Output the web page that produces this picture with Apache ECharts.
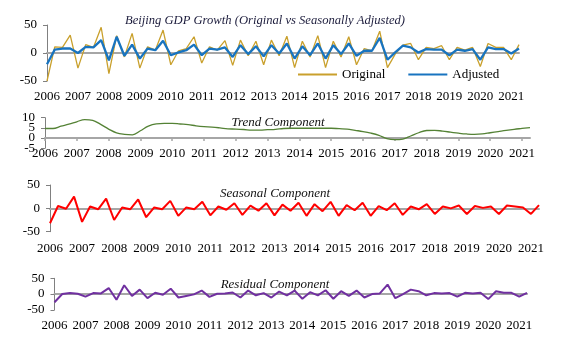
<!DOCTYPE html>
<html><head><meta charset="utf-8">
<script src="https://cdn.jsdelivr.net/npm/echarts@6/dist/echarts.min.js"></script>
<style>html,body{margin:0;padding:0;background:#fff}#c{width:565px;height:342px}</style>
</head><body><div id="c"></div>
<script>
const years = ['2006','2007','2008','2009','2010','2011','2012','2013','2014','2015','2016','2017','2018','2019','2020','2021'];
const quarters = ['Q1','Q2','Q3','Q4'];
const nPoints = 62;
const original = [-50,11,10,32,-27,15,10,46,-37,31,-7,35,-27,11,5,41,-21,4,8,29,-18,11,5,22,-22,23,-5,21,-21,23,-5,30,-26,21,-7,31,-26,21,-7,29,-21,8,4,39,-26,-2,14,17,-12,10,8,13,-12,10,5,10,-24,17,10,10,-12,15];
const adjusted = [-20,6,8,8,0,11,10,23,-13,29,-5,15,-10,8,5,22,-4,1,5,15,-4,8,6,10,-7,14,-2,12,-6,14,-1,17,-10,12,-4,17,-10,14,-2,17,-5,4,4,27,-12,1,13,10,1,7,6,6,-4,6,4,7,-12,10,7,7,-1,8];
const trend = [4.7,4.7,5.8,6.8,8.0,9.1,8.7,6.7,4.4,2.5,1.8,1.6,3.6,5.9,7.0,7.2,7.2,6.9,6.6,6.0,5.6,5.4,5.0,4.5,4.4,4.2,3.9,3.9,4.1,4.3,4.7,4.8,4.8,4.8,4.8,4.8,4.8,4.6,4.4,3.8,3.2,2.4,1.3,-0.3,-0.8,-0.5,1.0,2.6,3.7,3.8,3.4,2.9,2.4,2.0,1.8,2.0,2.6,3.2,3.8,4.3,4.7,5.1];
const seasonal = [-32,5,-1,25,-29,4,-2,21,-25,2,-2,19,-19,2,-2,16,-16,2,-2,14,-15,4,-3,11,-14,6,-5,11,-15,8,-5,12,-16,9,-6,14,-16,7,-4,12,-16,5,-4,11,-14,4,-2,9,-12,4,0,6,-12,5,1,4,-12,6,4,2,-12,7];
const residual = [-26,0,3,1,-8,3,2,19,-18,28,-6,14,-13,4,-2,17,-11,-6,-1,11,-9,1,2,5,-11,11,-4,3,-11,8,-4,11,-15,6,-4,12,-15,9,-6,11,-11,0,2,30,-13,0,14,9,-4,3,2,3,-8,4,2,4,-16,9,4,4,-8,4];
const trendTicksA = [10, 0];
const trendTicksB = [5, -5];

const categories = [];
years.forEach(y => quarters.forEach(q => categories.push(y + q)));
categories.length = nPoints;

const FONT = "'Liberation Serif','Times New Roman',serif";
const everyYear = (i) => i % 4 === 0;
const GRAY = '#A6A6A6';

function zeroAxis(grid, ticks) {
  return {type:'category', gridIndex:grid, data:categories, boundaryGap:false,
    axisLine:{show:true, onZero:true, lineStyle:{color:GRAY, width:2}},
    axisTick:ticks ? {show:true, interval:(i)=>everyYear(i), length:3, lineStyle:{color:GRAY, width:1.5}} : {show:false},
    axisLabel:{show:false}, splitLine:{show:false}};
}
function labelAxis(grid, margin) {
  return {type:'category', gridIndex:grid, data:categories, boundaryGap:false, position:'bottom',
    axisLine:{show:false, onZero:false}, axisTick:{show:false}, splitLine:{show:false},
    axisLabel:{interval:(i)=>everyYear(i), formatter:(v)=>v.slice(0,4), fontFamily:FONT, fontSize:13, color:'#000', margin:margin, hideOverlap:false}};
}
function yAx(grid, min, max, interval, opts) {
  opts = opts || {};
  const ax = {type:'value', gridIndex:grid, min:min, max:max, interval:interval, position:'left',
    axisLine:{show:opts.line !== false, onZero:false, lineStyle:{color:'#808080', width:1}},
    axisTick:{show:opts.line !== false, length:4, lineStyle:{color:'#808080'}},
    splitLine:{show:false},
    axisLabel:{fontFamily:FONT, fontSize:13, color:'#000', margin:10, showMinLabel:true, showMaxLabel:true, hideOverlap:false}};
  if (opts.only) ax.axisLabel.formatter = (v) => opts.only.indexOf(v) >= 0 ? String(v) : '';
  return ax;
}

const option = {
  animation:false,
  backgroundColor:'#fff',
  grid:[
    {left:47, right:46, top:25, height:56},
    {left:45, right:35, top:117.7, height:30.5},
    {left:50, right:26, top:185, height:46.7},
    {left:54.5, right:38, top:278.3, height:31.5}
  ],
  xAxis:[
    zeroAxis(0,false), labelAxis(0, 9),
    zeroAxis(1,true), labelAxis(1, -1.5),
    zeroAxis(2,false), labelAxis(2, 10),
    zeroAxis(3,false), labelAxis(3, 9.5)
  ],
  yAxis:[
    yAx(0,-50,50,50),
    yAx(1,-5,10,5,{only:trendTicksA}),
    yAx(2,-50,50,50),
    yAx(3,-50,50,50),
    yAx(1,-5,10,5,{only:trendTicksB, line:false})
  ],
  legend:{
    data:['Original','Adjusted'], left:292, top:63, itemWidth:39, itemHeight:12, itemGap:22,
    itemStyle:{opacity:0},
    textStyle:{fontFamily:FONT, fontSize:13, color:'#000'}
  },
  series:[
    {name:'Original', type:'line', xAxisIndex:0, yAxisIndex:0, data:original, symbol:'none',
      lineStyle:{color:'#C9A02C', width:1.3}, itemStyle:{color:'#C9A02C'}},
    {name:'Adjusted', type:'line', xAxisIndex:0, yAxisIndex:0, data:adjusted, symbol:'none',
      lineStyle:{color:'#1874C0', width:2.3}, itemStyle:{color:'#1874C0'}},
    {name:'Trend', type:'line', xAxisIndex:2, yAxisIndex:1, data:trend, symbol:'none', smooth:0.4,
      lineStyle:{color:'#548235', width:1.3}},
    {name:'Seasonal', type:'line', xAxisIndex:4, yAxisIndex:2, data:seasonal, symbol:'none',
      lineStyle:{color:'#FF0000', width:2}},
    {name:'Residual', type:'line', xAxisIndex:6, yAxisIndex:3, data:residual, symbol:'none',
      lineStyle:{color:'#7030A0', width:2}}
  ]
};
function titleText(txt, cx, cy, color, size){
  return {type:'text', x:cx, y:cy, style:{text:txt, font:"italic "+size+"px "+FONT, fill:color, align:'center', verticalAlign:'middle'}};
}
option.graphic = [
  titleText('Beijing GDP Growth (Original vs Seasonally Adjusted)', 265, 20.5, '#1c1c3c', 12.6),
  titleText('Trend Component', 278, 122.5, '#111', 13),
  titleText('Seasonal Component', 275, 193.5, '#111', 13),
  titleText('Residual Component', 275, 284.5, '#111', 13)
];
const chart = echarts.init(document.getElementById('c'), null, {renderer:'canvas'});
chart.setOption(option);
</script></body></html>
